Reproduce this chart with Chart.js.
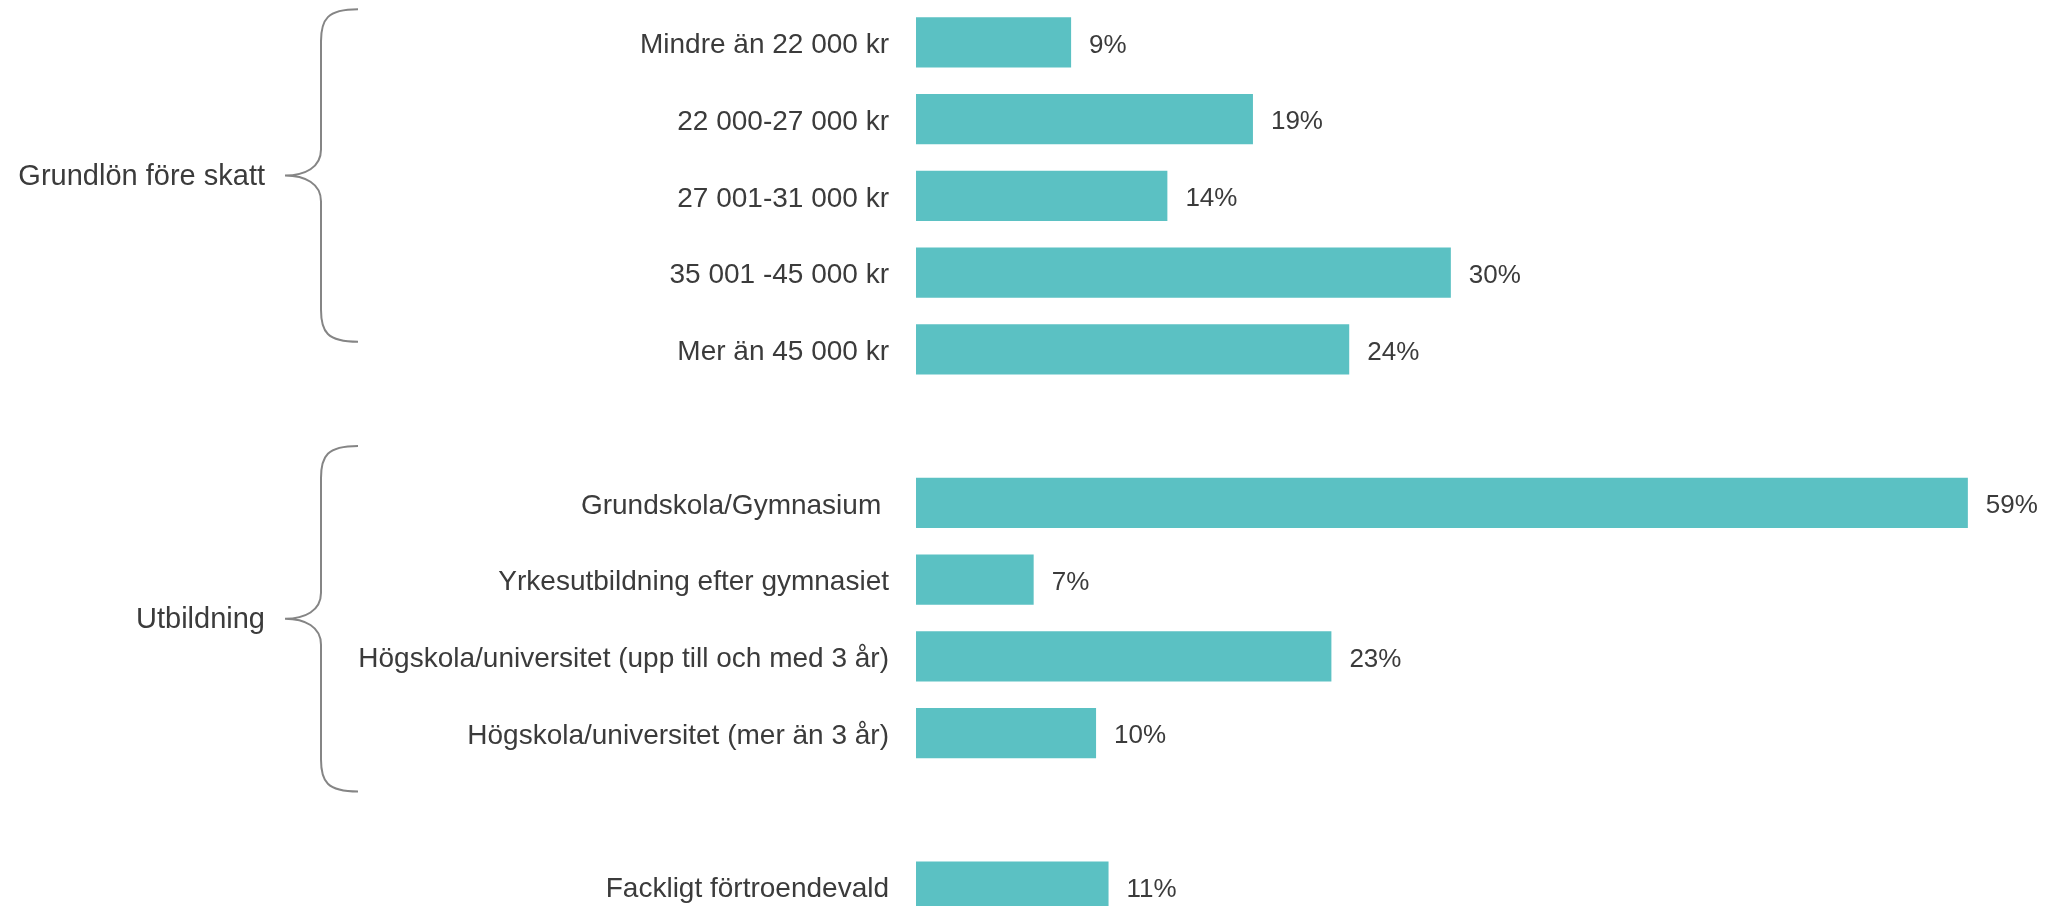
<!DOCTYPE html>
<html>
<head>
<meta charset="utf-8">
<script src="https://cdn.jsdelivr.net/npm/chart.js@4"></script>
<style>
  html, body { margin: 0; padding: 0; background: #fff; overflow: hidden; }
  #wrap { width: 2057px; height: 906px; overflow: hidden; }
</style>
</head>
<body>
<div id="wrap"><canvas id="chart" width="2057" height="925"></canvas></div>
<script>
// Categories (blank entries are the gaps between groups)
const categories = [
    'Mindre än 22 000 kr',
    '22 000-27 000 kr',
    '27 001-31 000 kr',
    '35 001 -45 000 kr',
    'Mer än 45 000 kr',
    '',
    'Grundskola/Gymnasium ',
    'Yrkesutbildning efter gymnasiet',
    'Högskola/universitet (upp till och med 3 år)',
    'Högskola/universitet (mer än 3 år)',
    '',
    'Fackligt förtroendevald'
];
// bar lengths as measured, and the rounded labels printed next to them
const values = [8.7, 18.9, 14.1, 30.0, 24.3, null, 59.0, 6.6, 23.3, 10.1, null, 10.8];
const valueLabels = ['9%', '19%', '14%', '30%', '24%', '', '59%', '7%', '23%', '10%', '', '11%'];

// Group labels and which category indexes they span
const groupNames = ['Grundlön före skatt', 'Utbildning'];
const groupFirst = [0, 6];
const groupLast = [4, 9];

const textColor = '#3b3b3b';
const fontFamily = '"Liberation Sans", Arial, sans-serif';

// Draws the percentage just to the right of every bar
const valueLabelPlugin = {
    id: 'valueLabels',
    afterDatasetsDraw(chart) {
        const ctx = chart.ctx;
        const meta = chart.getDatasetMeta(0);
        ctx.save();
        ctx.font = '26px ' + fontFamily;
        ctx.fillStyle = textColor;
        ctx.textAlign = 'left';
        ctx.textBaseline = 'middle';
        meta.data.forEach((bar, i) => {
            if (values[i] == null) return;
            ctx.fillText(valueLabels[i], bar.x + 18, bar.y + 3);
        });
        ctx.restore();
    }
};

// Curly braces with the group names on the left
const bracePlugin = {
    id: 'braces',
    afterDraw(chart, args, opts) {
        const ctx = chart.ctx;
        const y = chart.scales.y;
        const step = y.getPixelForValue(1) - y.getPixelForValue(0);
        ctx.save();
        ctx.strokeStyle = '#858585';
        ctx.lineWidth = 2;
        ctx.font = '29px ' + fontFamily;
        ctx.fillStyle = textColor;
        ctx.textAlign = 'right';
        ctx.textBaseline = 'middle';
        groupNames.forEach((name, g) => {
            const top = y.getPixelForValue(groupFirst[g]) + opts.topOffset[g] * step;
            const bottom = y.getPixelForValue(groupLast[g]) + opts.bottomOffset[g] * step;
            const mid = (top + bottom) / 2;
            const X = opts.lineX, E = opts.endX, P = opts.tipX;
            ctx.beginPath();
            ctx.moveTo(E, top);
            ctx.bezierCurveTo(X + 6, top, X, top + 10, X, top + 32);
            ctx.lineTo(X, mid - 26);
            ctx.bezierCurveTo(X, mid - 8, X - 16, mid, P, mid);
            ctx.bezierCurveTo(X - 16, mid, X, mid + 8, X, mid + 26);
            ctx.lineTo(X, bottom - 32);
            ctx.bezierCurveTo(X, bottom - 10, X + 6, bottom, E, bottom);
            ctx.stroke();
            ctx.fillText(name, opts.labelX, mid + 1);
        });
        ctx.restore();
    }
};

new Chart(document.getElementById('chart').getContext('2d'), {
    type: 'bar',
    data: {
        labels: categories,
        datasets: [{
            data: values,
            backgroundColor: '#5bc1c3',
            borderWidth: 0,
            barPercentage: 0.652,
            categoryPercentage: 1.0
        }]
    },
    options: {
        indexAxis: 'y',
        responsive: false,
        animation: false,
        layout: { padding: { top: 4, left: 0, right: 0, bottom: 0 } },
        scales: {
            x: {
                display: false,
                min: 0,
                max: 64
            },
            y: {
                grid: { display: false, drawTicks: false },
                border: { display: false },
                ticks: {
                    color: textColor,
                    padding: 27,
                    labelOffset: 3,
                    autoSkip: false,
                    font: { family: fontFamily, size: 28 }
                },
                afterFit(scale) {
                    scale.width = 916;
                    scale.paddingTop = 0;
                    scale.paddingBottom = 0;
                }
            }
        },
        plugins: {
            legend: { display: false },
            tooltip: { enabled: false },
            braces: {
                topOffset: [-0.43, -0.74],
                bottomOffset: [-0.1, 0.76],
                lineX: 321,
                endX: 358,
                tipX: 285,
                labelX: 265
            }
        }
    },
    plugins: [valueLabelPlugin, bracePlugin]
});
</script>
</body>
</html>
